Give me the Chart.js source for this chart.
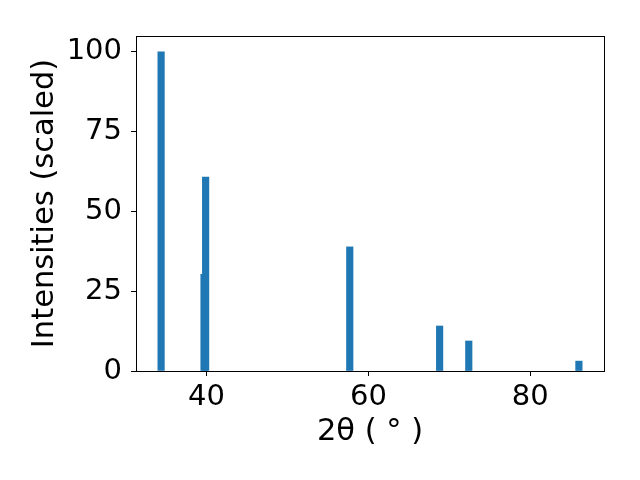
<!DOCTYPE html>
<html>
<head>
<meta charset="utf-8">
<script src="https://cdn.jsdelivr.net/npm/chart.js@4/dist/chart.umd.min.js"></script>
<style>
  html, body { margin: 0; padding: 0; background: #fff; }
  #wrap { width: 640px; height: 480px; }
</style>
</head>
<body>
<div id="wrap"><canvas id="xrd"></canvas></div>
<script>
// peak positions (2θ, degrees) and scaled intensities
const peaks = [34.4, 39.7, 39.9, 57.7, 68.8, 72.4, 86.0];
const intensities = [100, 30.3, 60.8, 38.9, 14.1, 9.4, 3.1];
const xTicks = [40, 60, 80];
const yTicks = [0, 25, 50, 75, 100];

const FONT = 'DejaVu Sans';
const TICK_SIZE = 29;
const TITLE_SIZE = 30.5;

// draw the closed matplotlib-style frame round the plot area
const frame = {
  id: 'frame',
  afterDraw(chart) {
    const { ctx, chartArea: a } = chart;
    ctx.save();
    ctx.strokeStyle = '#000';
    ctx.lineWidth = 1;
    ctx.strokeRect(a.left + 0.5, a.top + 0.5, a.right - a.left, a.bottom - a.top);
    ctx.restore();
  }
};

const keepTicks = list => scale => {
  scale.ticks = list.map(v => ({ value: v }));
};

new Chart(document.getElementById('xrd'), {
  type: 'bar',
  data: {
    datasets: [{
      data: peaks.map((p, i) => ({ x: p, y: intensities[i] })),
      backgroundColor: '#1f77b4',
      borderWidth: 0,
      barThickness: 6.5,
      grouped: false,
    }]
  },
  options: {
    responsive: true,
    maintainAspectRatio: false,
    animation: false,
    layout: { padding: { left: 0, right: 36, top: 36, bottom: 0 } },
    plugins: { legend: { display: false }, tooltip: { enabled: false } },
    scales: {
      x: {
        type: 'linear',
        min: 31.3,
        max: 89.1,
        offset: false,
        afterBuildTicks: keepTicks(xTicks),
        afterFit: s => { s.height = 109; },
        grid: { offset: false, drawOnChartArea: false, tickLength: 5, tickColor: '#000', color: '#000' },
        border: { color: '#000', width: 1 },
        ticks: { color: '#000', padding: 4, font: { family: FONT, size: TICK_SIZE } },
        title: {
          display: true,
          text: '2θ ( ° )',
          color: '#000',
          font: { family: FONT, size: TITLE_SIZE },
          padding: { top: 0, bottom: 30 }
        }
      },
      y: {
        min: 0,
        max: 105,
        afterBuildTicks: keepTicks(yTicks),
        afterFit: s => { s.width = 136; },
        grid: { drawOnChartArea: false, tickLength: 5, tickColor: '#000', color: '#000' },
        border: { color: '#000', width: 1 },
        ticks: { color: '#000', padding: 9, font: { family: FONT, size: TICK_SIZE } },
        title: {
          display: true,
          text: 'Intensities (scaled)',
          color: '#000',
          font: { family: FONT, size: TITLE_SIZE },
          padding: { top: 27, bottom: 0 }
        }
      }
    }
  },
  plugins: [frame]
});
</script>
</body>
</html>
